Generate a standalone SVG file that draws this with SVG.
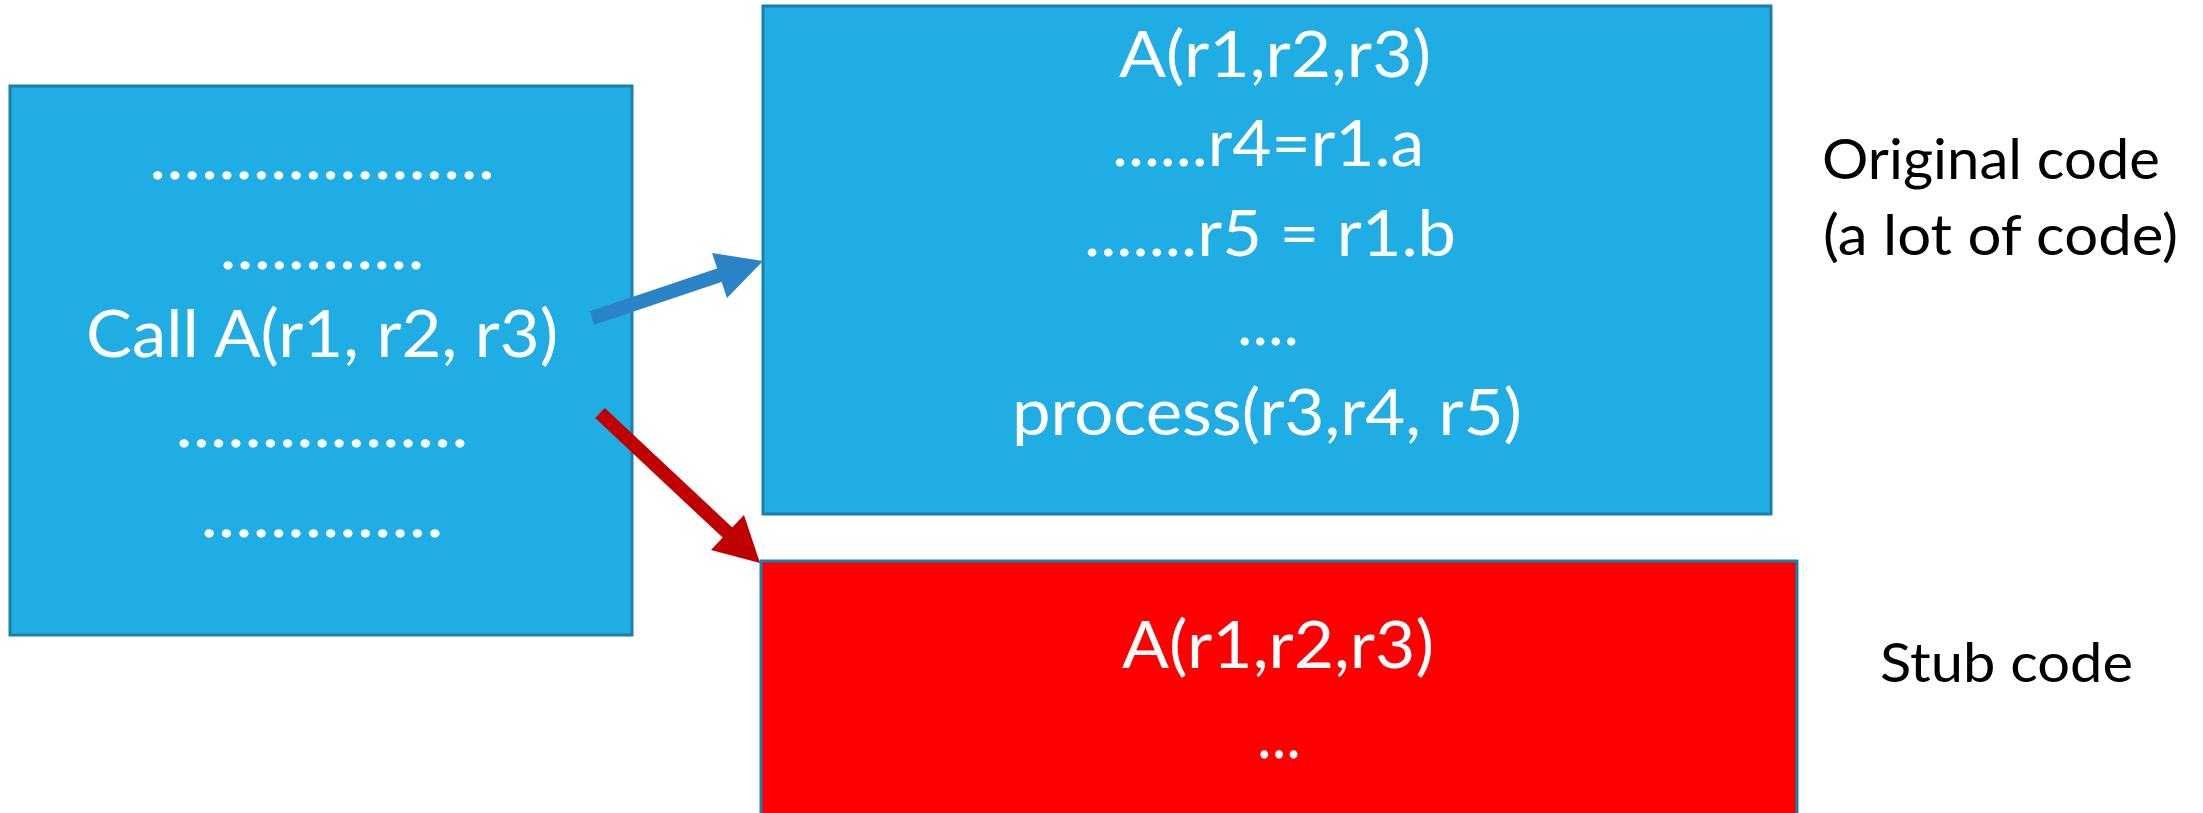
<svg xmlns="http://www.w3.org/2000/svg" width="2203" height="813" viewBox="0 0 2203 813">
<style>
.box{fill:#1FADE3;stroke:#1A80AA;stroke-width:3}
.stub{fill:#FF0000;stroke:#1A80AA;stroke-width:3}
.t{font-family:Lato,"Open Sans","Liberation Sans",sans-serif;fill:#FFFFFF;text-anchor:middle}
.lbl{font-family:Lato,"Open Sans","Liberation Sans",sans-serif;fill:#000000}
.ab{stroke:#2A83C6;stroke-width:14;fill:none}
.abh{fill:#2A83C6}
.ar{stroke:#C00000;stroke-width:14;fill:none}
.arh{fill:#C00000}
</style>
<rect width="2203" height="813" fill="#FFFFFF"/>
<g id="caller">
<rect class="box" x="10" y="86" width="622" height="549"/>
<text class="t" x="322" y="179" font-size="65" textLength="346" lengthAdjust="spacingAndGlyphs">....................</text>
<text class="t" x="322" y="269" font-size="65" textLength="205" lengthAdjust="spacingAndGlyphs">............</text>
<text class="t" x="322" y="357" font-size="65" textLength="472" lengthAdjust="spacingAndGlyphs">Call A(r1, r2, r3)</text>
<text class="t" x="322" y="447" font-size="65" textLength="293" lengthAdjust="spacingAndGlyphs">.................</text>
<text class="t" x="322" y="537" font-size="65" textLength="243" lengthAdjust="spacingAndGlyphs">..............</text>
</g>
<g id="original">
<rect class="box" x="763" y="6" width="1008" height="508"/>
<text class="t" x="1275" y="77" font-size="63" textLength="312" lengthAdjust="spacingAndGlyphs">A(r1,r2,r3)</text>
<text class="t" x="1268" y="166" font-size="63" textLength="312" lengthAdjust="spacingAndGlyphs">......r4=r1.a</text>
<text class="t" x="1270" y="256" font-size="63" textLength="372" lengthAdjust="spacingAndGlyphs">.......r5 = r1.b</text>
<text class="t" x="1268" y="345" font-size="63" textLength="62" lengthAdjust="spacingAndGlyphs">....</text>
<text class="t" x="1267" y="435" font-size="63" textLength="510" lengthAdjust="spacingAndGlyphs">process(r3,r4, r5)</text>
</g>
<g id="stub">
<rect class="stub" x="761" y="561" width="1036" height="270"/>
<text class="t" x="1278" y="668" font-size="65" textLength="312" lengthAdjust="spacingAndGlyphs">A(r1,r2,r3)</text>
<text class="t" x="1279" y="758" font-size="65" textLength="44" lengthAdjust="spacingAndGlyphs">...</text>
</g>
<g id="label-original">
<text class="lbl" x="1822" y="179" font-size="57" textLength="338" lengthAdjust="spacingAndGlyphs">Original code</text>
<text class="lbl" x="1823" y="255" font-size="57" textLength="355" lengthAdjust="spacingAndGlyphs">(a lot of code)</text>
</g>
<g id="label-stub">
<text class="lbl" x="1880" y="682" font-size="55" textLength="253" lengthAdjust="spacingAndGlyphs">Stub code</text>
</g>
<g id="connectors">
<path class="ab" d="M592,318 L720,275"/>
<polygon class="abh" points="763,261 727,298 712,253"/>
<path class="ar" d="M600,413 L728,533"/>
<polygon class="arh" points="760,563 711,550 744,515"/>
</g>
</svg>
